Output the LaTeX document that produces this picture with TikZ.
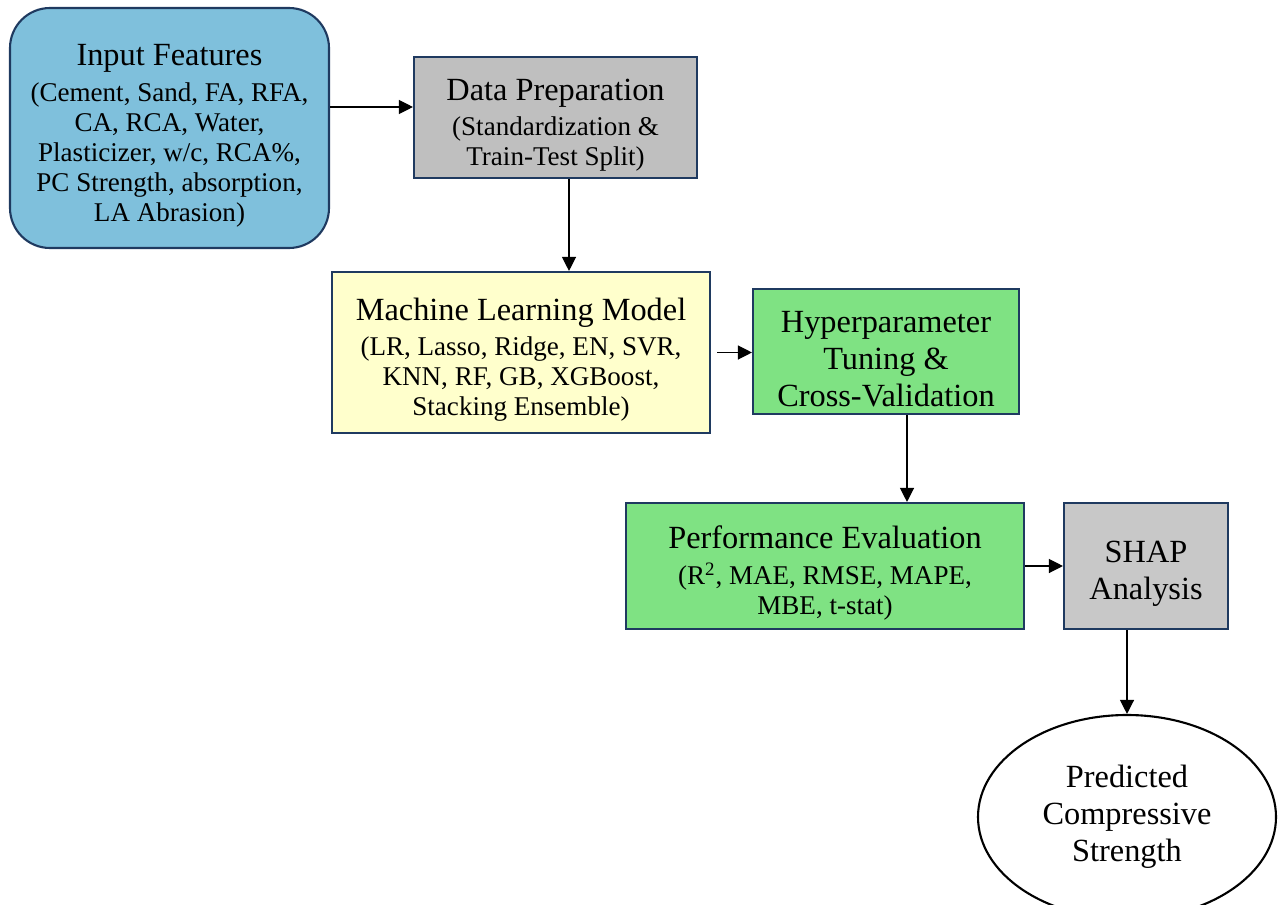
\documentclass[tikz,border=0pt]{standalone}
\usepackage{fontspec}
\setmainfont{Liberation Serif}
\usetikzlibrary{arrows.meta,shapes.geometric}

\definecolor{boxedge}{HTML}{1F3A60}
\definecolor{inblue}{HTML}{7FC0DC}
\definecolor{prepgray}{HTML}{BFBFBF}
\definecolor{shapgray}{HTML}{C8C8C8}
\definecolor{mlyellow}{HTML}{FFFFCC}
\definecolor{evalgreen}{HTML}{7FE283}

\newcommand{\bigtxt}{\fontsize{18.4}{21}\selectfont}
\newcommand{\subtxt}{\fontsize{15.4}{17.1}\selectfont}
\newcommand{\topgap}{\rule{0pt}{21pt}}

\begin{document}
\begin{tikzpicture}[
    stepbox/.style={draw=boxedge, line width=1.2pt, align=center, inner sep=2pt, font=\subtxt},
    titlebox/.style={stepbox, font=\bigtxt},
    arr/.style={-{Triangle[length=8pt,width=8pt]}, line width=0.7pt}
]
    \useasboundingbox (0,0) rectangle (25.6,-18.1);
    % Below nodes are the boxes.
        \node[stepbox, fill=inblue, rounded corners=0.8cm, minimum width=6.38cm, minimum height=4.8cm] (input) at (3.39,-2.56)
            {{\topgap\bigtxt Input Features}\\[3pt] (Cement, Sand, FA, RFA,\\ CA, RCA, Water,\\ Plasticizer, w/c, RCA\%,\\ PC Strength, absorption,\\ LA Abrasion)};
        \node[stepbox, fill=prepgray, minimum width=5.66cm, minimum height=2.42cm] (prep) at (11.11,-2.35)
            {{\topgap\bigtxt Data Preparation}\\[3pt] (Standardization \&\\ Train-Test Split)};
        \node[stepbox, fill=mlyellow, minimum width=7.56cm, minimum height=3.22cm] (model) at (10.42,-7.05)
            {{\topgap\bigtxt Machine Learning Model}\\[3pt] (LR, Lasso, Ridge, EN, SVR,\\ KNN, RF, GB, XGBoost,\\ Stacking Ensemble)};
        \node[titlebox, fill=evalgreen, minimum width=5.32cm, minimum height=2.5cm] (tune) at (17.72,-7.03)
            {\topgap Hyperparameter\\ Tuning \&\\ Cross-Validation};
        \node[stepbox, fill=evalgreen, minimum width=7.96cm, minimum height=2.52cm] (perf) at (16.5,-11.32)
            {{\topgap\bigtxt Performance Evaluation}\\[3pt] (R\textsuperscript{2}, MAE, RMSE, MAPE,\\ MBE, t-stat)};
        \node[titlebox, fill=shapgray, minimum width=3.28cm, minimum height=2.52cm] (shap) at (22.92,-11.32)
            {\topgap SHAP\\ Analysis};
        \node[ellipse, draw=black, line width=1.2pt, fill=white, align=center, font=\bigtxt, minimum width=5.96cm, minimum height=4.08cm] (pred) at (22.54,-16.34)
            {Predicted\\ Compressive\\ Strength};
    % This draws the arrows.
        \coordinate (prepin) at ([yshift=0.21cm]prep.west);
        \draw[arr] (input.east |- prepin) -- (prepin);
        \coordinate (prepout) at ([xshift=0.27cm]prep.south);
        \draw[arr] (prepout) -- (prepout |- model.north);
        \draw[arr, shorten <=0.12cm] (model.east) -- (tune.west |- model.east);
        \coordinate (tuneout) at ([xshift=0.42cm]tune.south);
        \draw[arr] (tuneout) -- (tuneout |- perf.north);
        \draw[arr] (perf.east) -- (shap.west);
        \draw[arr] (shap.south -| pred.north) -- (pred.north);
\end{tikzpicture}
\end{document}
